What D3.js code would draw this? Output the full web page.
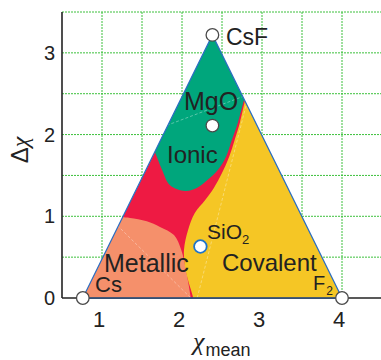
<!DOCTYPE html>
<html><head><meta charset="utf-8">
<script src="https://cdn.jsdelivr.net/npm/d3@7"></script>
<style>html,body{margin:0;padding:0;background:#fff;}svg{display:block;}</style>
</head><body>
<svg id="c" width="381" height="360"></svg>
<script>
// ---- data ----
const xTicks = [1, 2, 3, 4];
const yTicks = [0, 1, 2, 3];
const xGrid = [1, 1.5, 2, 2.5, 3, 3.5, 4];
const yGrid = [0.5, 1, 1.5, 2, 2.5, 3, 3.5];
const triangle = [[0.76, 0], [2.38, 3.22], [4.0, 0]];
const compoundNames = ["CsF", "MgO", "SiO2", "Cs", "F2"];
const compoundMean  = [2.38, 2.38, 2.23, 0.76, 4.0];
const compoundDelta = [3.22, 2.11, 0.63, 0, 0];
// region boundaries [chi_mean, delta_chi]
const ionicBoundary = [[2.80,2.52],[2.70,2.15],[2.625,1.94],[2.55,1.73],[2.45,1.57],[2.325,1.45],[2.19,1.35],[2.04,1.31],[1.85,1.38],[1.75,1.57],[1.66,1.79],[1.60,1.91]];
const covalentBoundary = [[2.82,2.56],[2.725,2.15],[2.66,1.94],[2.59,1.73],[2.50,1.53],[2.40,1.35],[2.29,1.20],[2.16,1.04],[2.075,0.83],[2.025,0.59],[2.035,0.40],[2.075,0.22],[2.14,0],[2.15,-0.09]];
const metallicBoundary = [[1.16,1.02],[1.25,0.99],[1.35,0.98],[1.56,0.94],[1.725,0.87],[1.90,0.77],[1.99,0.59],[2.05,0.34],[2.11,0],[2.12,-0.09]];
const faintLines = [
  [[1.75,2.09],[2.80,2.48]],
  [[2.83,2.47],[2.19,0]],
  [[1.19,0.89],[2.11,0]]
];
const regionLabels = [
  {t:"MgO", x:184, y:110, s:25},
  {t:"Ionic", x:167, y:163, s:24},
  {t:"Metallic", x:104, y:272, s:25},
  {t:"Cs", x:95, y:292, s:22},
  {t:"Covalent", x:222, y:271, s:24}
];

// ---- scales ----
const svg = d3.select("#c");
const x = d3.scaleLinear().domain([0.5, 4.5]).range([62, 382]);
const y = d3.scaleLinear().domain([0, 3.5]).range([298, 12]);
const gridColor = "#3cc03c";
const ink = "#222";

// grid
svg.append("g").selectAll("line").data(xGrid).join("line")
  .attr("x1", d => x(d)).attr("x2", d => x(d)).attr("y1", y(3.5)).attr("y2", y(0))
  .attr("stroke", gridColor).attr("stroke-width", 1).attr("stroke-dasharray", "2,1");
svg.append("g").selectAll("line").data(yGrid).join("line")
  .attr("x1", x(0.5)).attr("x2", 381).attr("y1", d => y(d)).attr("y2", d => y(d))
  .attr("stroke", gridColor).attr("stroke-width", 1).attr("stroke-dasharray", "2,1");

// axes lines
svg.append("line").attr("x1", x(0.5)).attr("x2", x(0.5)).attr("y1", y(3.5)).attr("y2", y(0))
  .attr("stroke", ink).attr("stroke-width", 1.6);
svg.append("line").attr("x1", x(0.5)).attr("x2", 381).attr("y1", y(0)).attr("y2", y(0))
  .attr("stroke", ink).attr("stroke-width", 1.6);

// tick labels
svg.append("g").selectAll("text").data(yTicks).join("text")
  .attr("x", 55).attr("y", d => y(d)).attr("dy", "0.36em")
  .attr("text-anchor", "end").attr("font-family", "Liberation Sans, Arial, sans-serif")
  .attr("font-size", 20).attr("fill", ink).text(d => d);
svg.append("g").selectAll("text").data(xTicks).join("text")
  .attr("x", d => x(d) - 3).attr("y", 327)
  .attr("text-anchor", "middle").attr("font-family", "Liberation Sans, Arial, sans-serif")
  .attr("font-size", 22).attr("fill", ink).text(d => d);

// triangle + regions
const triPx = triangle.map(p => [x(p[0]), y(p[1])]);
const defs = svg.append("defs");
defs.append("clipPath").attr("id", "tri").append("polygon")
  .attr("points", triPx.map(p => p.join(",")).join(" "));
const g = svg.append("g").attr("clip-path", "url(#tri)");
g.append("polygon").attr("points", triPx.map(p => p.join(",")).join(" ")).attr("fill", "#ee1a43");
const curve = d3.line().x(d => x(d[0])).y(d => y(d[1])).curve(d3.curveCatmullRom.alpha(0.5));
function region(pts, corners, fill) {
  let d = curve(pts);
  corners.forEach(c => { d += "L" + x(c[0]) + "," + y(c[1]); });
  d += "Z";
  g.append("path").attr("d", d).attr("fill", fill);
}
region(metallicBoundary, [[0.5, -0.2], [0.5, 1.02]], "#f5906b");
region(ionicBoundary, [[1.2, 3.6], [3.3, 3.6]], "#00a67c");
region(covalentBoundary, [[4.4, -0.2], [4.4, 2.56]], "#f5c625");
g.append("g").selectAll("path").data(faintLines).join("path")
  .attr("d", d3.line().x(d => x(d[0])).y(d => y(d[1])))
  .attr("stroke", "#fff").attr("stroke-opacity", 0.35).attr("stroke-width", 1)
  .attr("stroke-dasharray", "3,2").attr("fill", "none");

// triangle outline
svg.append("polygon").attr("points", triPx.map(p => p.join(",")).join(" "))
  .attr("fill", "none").attr("stroke", "#2a6fc4").attr("stroke-width", 1.2);
svg.append("line").attr("x1", triPx[0][0]).attr("x2", triPx[2][0]).attr("y1", y(0)).attr("y2", y(0))
  .attr("stroke", "#334a6a").attr("stroke-width", 1.6);

// points
svg.append("g").selectAll("circle").data(compoundNames).join("circle")
  .attr("cx", (d, i) => x(compoundMean[i])).attr("cy", (d, i) => y(compoundDelta[i]))
  .attr("r", 6.3).attr("fill", "#fff")
  .attr("stroke", d => d === "SiO2" ? "#1f74c8" : "#4a4a4a")
  .attr("stroke-width", d => d === "SiO2" ? 1.8 : 1.3);

// labels
const font = "Liberation Sans, Arial, sans-serif";
svg.append("text").attr("x", 226).attr("y", 45).attr("font-family", font).attr("font-size", 23)
  .attr("fill", ink).text("CsF");
svg.append("g").selectAll("text").data(regionLabels).join("text")
  .attr("x", d => d.x).attr("y", d => d.y).attr("font-family", font).attr("font-size", d => d.s)
  .attr("fill", ink).text(d => d.t);
const si = svg.append("text").attr("x", 207).attr("y", 239).attr("font-family", font).attr("font-size", 21).attr("fill", ink);
si.append("tspan").text("SiO");
si.append("tspan").attr("font-size", 13).attr("dy", 5).text("2");
const f2 = svg.append("text").attr("x", 313).attr("y", 290).attr("font-family", font).attr("font-size", 20).attr("fill", ink);
f2.append("tspan").text("F");
f2.append("tspan").attr("font-size", 12).attr("dy", 5).attr("dx", 1).text("2");

// axis titles
const yt = svg.append("text").attr("transform", "translate(28,150) rotate(-90)")
  .attr("text-anchor", "middle").attr("font-size", 24).attr("fill", ink);
yt.append("tspan").attr("font-family", "Liberation Sans, Arial, sans-serif").text("Δ");
yt.append("tspan").attr("font-family", "Liberation Serif, Times New Roman, serif").attr("font-style", "italic").text("χ");
const xt = svg.append("text").attr("x", 193).attr("y", 350).attr("fill", ink);
xt.append("tspan").attr("font-family", "Liberation Serif, Times New Roman, serif").attr("font-style", "italic").attr("font-size", 26).text("χ");
xt.append("tspan").attr("font-family", font).attr("font-size", 18).attr("dy", 6).attr("dx", 1).text("mean");
</script>
</body></html>
